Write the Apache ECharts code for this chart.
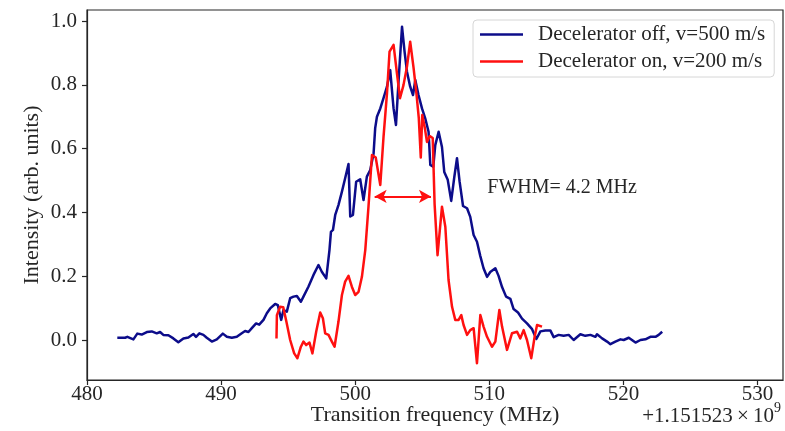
<!DOCTYPE html>
<html>
<head>
<meta charset="utf-8">
<script src="https://cdn.jsdelivr.net/npm/echarts@6/dist/echarts.min.js"></script>
<style>
  html, body { margin: 0; padding: 0; background: #fff; }
  #chart { width: 785px; height: 431px; }
</style>
</head>
<body>
<div id="chart"></div>
<script>
// Frequency offsets (MHz) and normalised intensities, decelerator off
const freqOff = [
  482.26, 482.84, 483.01, 483.46, 483.75, 484.08, 484.46, 484.83, 485.20, 485.45,
  485.69, 486.07, 486.44, 486.81, 487.19, 487.56, 487.93, 488.13, 488.38, 488.68,
  488.93, 489.31, 489.68, 490.13, 490.43, 490.80, 491.17, 491.54, 491.79, 492.04,
  492.29, 492.61, 492.84, 493.16, 493.41, 493.66, 494.03, 494.23, 494.48, 494.65,
  494.90, 495.15, 495.40, 495.65, 495.77, 495.95, 496.14, 496.51, 496.89, 497.26,
  497.51, 497.84, 498.08, 498.19, 498.34, 498.51, 498.75, 499.01, 499.25, 499.50,
  499.63, 499.83, 500.07, 500.37, 500.62, 500.87, 501.12, 501.37, 501.49, 501.62,
  501.87, 502.11, 502.37, 502.61, 502.86, 503.04, 503.23, 503.49, 503.68, 503.86,
  504.10, 504.31, 504.48, 504.72, 504.98, 505.22, 505.47, 505.60, 505.82, 505.97,
  506.22, 506.47, 506.64, 506.90, 507.16, 507.39, 507.59, 507.78, 508.04, 508.34,
  508.58, 508.83, 509.08, 509.33, 509.57, 509.83, 510.07, 510.45, 510.69, 510.95,
  511.25, 511.57, 511.81, 512.14, 512.44, 512.81, 513.19, 513.51, 513.81, 514.18,
  514.55, 514.80, 515.17, 515.54, 515.92, 516.29, 516.79, 517.16, 517.54, 517.91,
  518.03, 518.41, 518.78, 519.03, 519.40, 519.78, 520.02, 520.40, 520.90, 521.27,
  521.64, 522.01, 522.39, 522.63, 522.89
];
const intensityOff = [
  0.007, 0.007, 0.010, 0.002, 0.020, 0.017, 0.025, 0.027, 0.021, 0.025,
  0.016, 0.015, 0.005, -0.007, 0.005, 0.008, 0.019, 0.010, 0.021, 0.016,
  0.007, -0.005, 0.002, 0.020, 0.010, 0.007, 0.010, 0.021, 0.028, 0.025,
  0.037, 0.052, 0.048, 0.063, 0.084, 0.099, 0.113, 0.109, 0.063, 0.094,
  0.089, 0.131, 0.136, 0.138, 0.143, 0.120, 0.136, 0.167, 0.204, 0.235,
  0.214, 0.193, 0.282, 0.339, 0.345, 0.392, 0.423, 0.465, 0.507, 0.552,
  0.387, 0.392, 0.496, 0.504, 0.439, 0.512, 0.533, 0.585, 0.664, 0.700,
  0.726, 0.758, 0.794, 0.846, 0.726, 0.674, 0.810, 0.982, 0.904, 0.841,
  0.794, 0.768, 0.815, 0.768, 0.726, 0.695, 0.653, 0.549, 0.543, 0.611,
  0.653, 0.605, 0.527, 0.502, 0.436, 0.511, 0.570, 0.498, 0.420, 0.413,
  0.386, 0.329, 0.308, 0.263, 0.225, 0.198, 0.213, 0.225, 0.201, 0.166,
  0.136, 0.129, 0.097, 0.086, 0.067, 0.052, 0.034, 0.003, 0.027, 0.030,
  0.030, 0.009, 0.016, 0.013, 0.016, 0.000, 0.018, 0.013, 0.016, 0.010,
  0.018, 0.005, -0.005, -0.013, -0.005, 0.002, 0.000, 0.007, -0.008, 0.000,
  0.002, 0.010, 0.010, 0.016, 0.026
];

// Frequency offsets (MHz) and normalised intensities, decelerator on
const freqOn = [
  494.13, 494.16, 494.40, 494.63, 494.87, 495.15, 495.45, 495.69, 495.95, 496.14,
  496.34, 496.59, 496.81, 497.09, 497.39, 497.59, 497.76, 498.01, 498.26, 498.46,
  498.75, 499.01, 499.25, 499.50, 499.75, 500.00, 500.25, 500.50, 500.75, 500.99,
  501.25, 501.53, 501.87, 502.11, 502.37, 502.56, 502.86, 503.11, 503.34, 503.60,
  503.86, 504.10, 504.35, 504.57, 504.74, 504.89, 505.00, 505.19, 505.35, 505.56,
  505.78, 505.92, 506.14, 506.47, 506.72, 506.96, 507.22, 507.46, 507.71, 507.91,
  508.08, 508.34, 508.58, 508.83, 509.08, 509.33, 509.57, 509.83, 510.20, 510.45,
  510.75, 510.95, 511.32, 511.69, 512.07, 512.31, 512.56, 512.81, 513.13, 513.38,
  513.56, 513.93
];
const intensityOn = [
  0.005, 0.078, 0.104, 0.103, 0.057, 0.000, -0.042, -0.057, -0.021, -0.005,
  -0.016, -0.008, -0.042, 0.026, 0.086, 0.068, 0.021, 0.016, -0.005, -0.021,
  0.057, 0.141, 0.183, 0.201, 0.167, 0.141, 0.151, 0.198, 0.282, 0.418,
  0.580, 0.572, 0.486, 0.636, 0.773, 0.904, 0.925, 0.837, 0.758, 0.799,
  0.857, 0.935, 0.854, 0.771, 0.696, 0.572, 0.705, 0.665, 0.621, 0.639,
  0.633, 0.426, 0.266, 0.418, 0.355, 0.188, 0.104, 0.063, 0.063, 0.078,
  0.047, 0.016, 0.031, 0.037, -0.073, 0.078, 0.042, 0.010, -0.021, -0.005,
  0.094, 0.042, -0.031, 0.021, 0.026, 0.005, 0.031, 0.000, -0.057, 0.010,
  0.047, 0.042
];

const seriesNames = ['Decelerator off, v=500 m/s', 'Decelerator on, v=200 m/s'];
const xTicks = [480, 490, 500, 510, 520, 530];
const yTicks = [0.0, 0.2, 0.4, 0.6, 0.8, 1.0];
const xTitle = 'Transition frequency (MHz)';
const yTitle = 'Intensity (arb. units)';
const offsetBase = '+1.151523\u2009\u00d7\u200910';
const offsetExp = '9';

// Width of the slowed-beam line and where the arrow marking it sits
const fwhmMHz = 4.2;
const fwhmCenter = 503.55;
const halfMaxLevel = 0.45;
const fwhmLabelAt = [509.85, 0.476];

const FONT = "'Liberation Serif', 'DejaVu Serif', serif";
const INK = '#262626';
const BLUE = '#0c0c8a';
const RED = '#ff1010';

const zip = (xs, ys) => xs.map((x, i) => [x, ys[i]]);

const chart = echarts.init(document.getElementById('chart'), null, { renderer: 'canvas' });

chart.setOption({
  animation: false,
  backgroundColor: '#fff',
  grid: {
    left: 87, right: 2, top: 10, bottom: 51,
    containLabel: false,
    outerBoundsMode: 'none',
    show: true,
    borderColor: INK,
    borderWidth: 1.2,
    backgroundColor: 'transparent'
  },
  legend: {
    data: seriesNames,
    orient: 'vertical',
    left: 473,
    top: 20,
    icon: 'rect',
    itemWidth: 43,
    itemHeight: 2.6,
    itemGap: 6,
    padding: [4, 9, 5, 7],
    backgroundColor: '#fff',
    borderColor: '#d6d6d6',
    borderWidth: 1,
    borderRadius: 4,
    textStyle: {
      fontFamily: FONT, fontSize: 21, color: INK, lineHeight: 21,
      padding: [0, 0, 0, 10]
    }
  },
  xAxis: {
    type: 'value',
    min: 480,
    max: 531.9,
    name: xTitle,
    nameLocation: 'middle',
    nameGap: 24,
    nameMoveOverlap: false,
    nameTextStyle: { fontFamily: FONT, fontSize: 22, color: INK },
    axisLine: { show: true, onZero: false, lineStyle: { color: INK, width: 1.2 } },
    axisTick: { show: true, inside: false, length: 5, customValues: xTicks, lineStyle: { color: INK, width: 1.2 } },
    axisLabel: {
      customValues: xTicks, margin: 4,
      fontFamily: FONT, fontSize: 21, color: INK,
      formatter: v => String(Math.round(v))
    },
    splitLine: { show: false }
  },
  yAxis: {
    type: 'value',
    min: -0.1254,
    max: 1.0345,
    name: yTitle,
    nameLocation: 'middle',
    nameRotate: 90,
    nameGap: 44,
    nameMoveOverlap: false,
    nameTextStyle: { fontFamily: FONT, fontSize: 22, color: INK },
    axisLine: { show: true, onZero: false, lineStyle: { color: INK, width: 1.2 } },
    axisTick: { show: true, inside: false, length: 5, customValues: yTicks, lineStyle: { color: INK, width: 1.2 } },
    axisLabel: {
      customValues: yTicks, margin: 10,
      fontFamily: FONT, fontSize: 21, color: INK,
      formatter: v => v.toFixed(1)
    },
    splitLine: { show: false }
  },
  series: [
    {
      name: seriesNames[0],
      type: 'line',
      data: zip(freqOff, intensityOff),
      showSymbol: false,
      color: BLUE,
      lineStyle: { color: BLUE, width: 2.5, join: 'round' },
      z: 2
    },
    {
      name: seriesNames[1],
      type: 'line',
      data: zip(freqOn, intensityOn),
      showSymbol: false,
      color: RED,
      lineStyle: { color: RED, width: 2.5, join: 'round' },
      z: 3,
      markLine: {
        silent: true,
        symbol: ['arrow', 'arrow'],
        symbolSize: [10, 12],
        label: { show: false },
        lineStyle: { color: RED, width: 2, type: 'solid' },
        emphasis: { disabled: true },
        data: [[
          { coord: [fwhmCenter - fwhmMHz / 2, halfMaxLevel] },
          { coord: [fwhmCenter + fwhmMHz / 2, halfMaxLevel] }
        ]]
      }
    }
  ]
});

// Annotation text and the axis offset, placed from data/axes coordinates
const fwhmPos = chart.convertToPixel({ gridIndex: 0 }, fwhmLabelAt);
chart.setOption({
  graphic: [
    {
      type: 'text',
      x: fwhmPos[0],
      y: fwhmPos[1],
      silent: true,
      style: {
        text: 'FWHM= ' + fwhmMHz.toFixed(1) + ' MHz',
        fontFamily: FONT, fontSize: 20, fill: INK,
        align: 'left', verticalAlign: 'middle'
      }
    },
    {
      type: 'text',
      right: 4,
      top: 401,
      silent: true,
      style: {
        text: '{b|' + offsetBase + '}{e|' + offsetExp + '}',
        rich: {
          b: { fontFamily: FONT, fontSize: 21, fill: INK, color: INK, verticalAlign: 'bottom', lineHeight: 26 },
          e: { fontFamily: FONT, fontSize: 14, fill: INK, color: INK, verticalAlign: 'top', lineHeight: 26 }
        }
      }
    }
  ]
});
</script>
</body>
</html>
